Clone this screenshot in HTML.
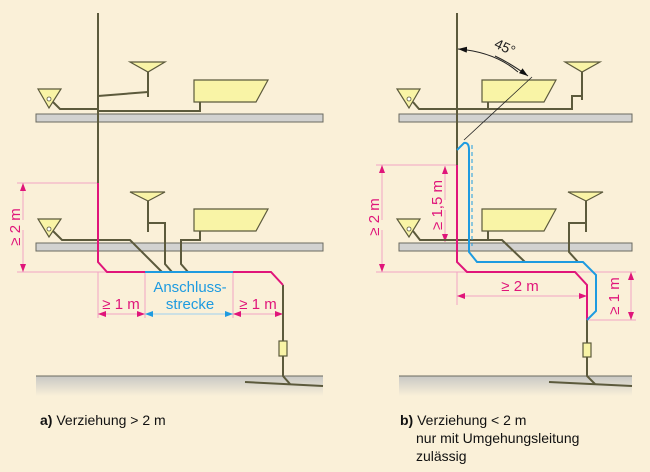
<!DOCTYPE html>
<html><head><meta charset="utf-8"><style>
html,body{margin:0;padding:0;background:#faf0d8;}
svg{display:block;}
text{font-family:"Liberation Sans",sans-serif;}
</style></head><body>
<svg width="650" height="472" viewBox="0 0 650 472" xmlns="http://www.w3.org/2000/svg">
<defs>
<linearGradient id="gr" x1="0" y1="0" x2="0" y2="1"><stop offset="0" stop-color="#c8c8c4"/><stop offset="1" stop-color="#faf0d8"/></linearGradient>
<marker id="am" markerWidth="8" markerHeight="6" refX="8" refY="3" orient="auto" markerUnits="userSpaceOnUse"><path d="M0,0 L8,3 L0,6z" fill="#e0157a"/></marker>
<marker id="ab" markerWidth="8" markerHeight="6" refX="8" refY="3" orient="auto" markerUnits="userSpaceOnUse"><path d="M0,0 L8,3 L0,6z" fill="#1e9be0"/></marker>
<marker id="ak" markerWidth="9" markerHeight="6" refX="9" refY="3" orient="auto" markerUnits="userSpaceOnUse"><path d="M0,0 L9,3 L0,6z" fill="#111"/></marker>
</defs>
<rect width="650" height="472" fill="#faf0d8"/>

<g fill="#d2d2d0" stroke="#6a6a60" stroke-width="1">
<rect x="36" y="114" width="287" height="8"/>
<rect x="36" y="243" width="287" height="8"/>
<rect x="399" y="114" width="233" height="8"/>
<rect x="399" y="243" width="233" height="8"/>
</g>
<rect x="36" y="376" width="287" height="20" fill="url(#gr)"/>
<line x1="36" y1="376" x2="323" y2="376" stroke="#6a6a60"/>
<rect x="399" y="376" width="233" height="20" fill="url(#gr)"/>
<line x1="399" y1="376" x2="632" y2="376" stroke="#6a6a60"/>

<g stroke="#f3a3c4" stroke-width="1" fill="none">
<line x1="17" y1="183" x2="98" y2="183"/>
<line x1="17" y1="272" x2="145" y2="272"/>
<line x1="98" y1="272" x2="98" y2="318"/>
<line x1="145" y1="272" x2="145" y2="318"/>
<line x1="233" y1="272" x2="233" y2="318"/>
<line x1="283" y1="285" x2="283" y2="318"/>
<line x1="376" y1="165" x2="457" y2="165"/>
<line x1="376" y1="272" x2="636" y2="272"/>
<line x1="457" y1="272" x2="457" y2="305"/>
<line x1="587" y1="320" x2="636" y2="320"/>
</g>
<g stroke="#f3a3c4" stroke-width="1">
<line x1="23" y1="220" x2="23" y2="183" marker-end="url(#am)"/>
<line x1="23" y1="230" x2="23" y2="272" marker-end="url(#am)"/>
<line x1="382" y1="220" x2="382" y2="165" marker-end="url(#am)"/>
<line x1="382" y1="230" x2="382" y2="272" marker-end="url(#am)"/>
<line x1="445" y1="200" x2="445" y2="166" marker-end="url(#am)"/>
<line x1="445" y1="210" x2="445" y2="242" marker-end="url(#am)"/>
<line x1="631" y1="296" x2="631" y2="272" marker-end="url(#am)"/>
<line x1="631" y1="296" x2="631" y2="320" marker-end="url(#am)"/>
<line x1="121" y1="314" x2="98" y2="314" marker-end="url(#am)"/>
<line x1="121" y1="314" x2="145" y2="314" marker-end="url(#am)"/>
<line x1="258" y1="314" x2="233" y2="314" marker-end="url(#am)"/>
<line x1="258" y1="314" x2="283" y2="314" marker-end="url(#am)"/>
<line x1="520" y1="296" x2="457" y2="296" marker-end="url(#am)"/>
<line x1="520" y1="296" x2="587" y2="296" marker-end="url(#am)"/>
</g>
<g stroke="#9fd0ef" stroke-width="1">
<line x1="189" y1="314" x2="145" y2="314" marker-end="url(#ab)"/>
<line x1="189" y1="314" x2="233" y2="314" marker-end="url(#ab)"/>
</g>

<path d="M518,72 Q495,52 458,49" fill="none" stroke="#222" stroke-width="1" marker-end="url(#ak)"/>
<path d="M495,56 Q510,63 528,76" fill="none" stroke="#222" stroke-width="1" marker-end="url(#ak)"/>
<text x="494" y="52" font-size="14" fill="#222" transform="rotate(25 505 48)">45°</text>

<g stroke="#5c5a3c" stroke-width="2" fill="none" stroke-linejoin="miter">
<line x1="98" y1="13" x2="98" y2="183"/>
<polyline points="53,102 60,109 98,109"/>
<polyline points="98,111 200,111 200,102"/>
<polyline points="98,96 148,92"/>
<line x1="148" y1="70" x2="148" y2="97"/>
<line x1="148" y1="199" x2="148" y2="232"/>
<polyline points="148,223 165,223 165,264 172,272"/>
<polyline points="53,231 62,240 130,240 162,272"/>
<polyline points="200,231 200,240 181,240 181,264 188,272"/>
<polyline points="283,285 283,376 290,384"/>
<line x1="245" y1="382" x2="323" y2="386"/>
<line x1="457" y1="13" x2="457" y2="165"/>
<polyline points="413,102 419,109 572,109 572,96 582,96 582,100"/>
<line x1="582" y1="70" x2="582" y2="99"/>
<line x1="488" y1="102" x2="488" y2="109"/>
<polyline points="413,231 420,240 502,240 525,262"/>
<polyline points="488,231 488,240"/>
<line x1="586" y1="199" x2="586" y2="232"/>
<polyline points="586,223 569,223 569,252 578,262"/>
<polyline points="587,320 587,376 595,384"/>
<line x1="549" y1="382" x2="632" y2="386"/>
</g>
<g fill="#f9f4a6" stroke="#5c5a3c" stroke-width="1.2">
<polygon points="38,89 61,89 49,108"/>
<polygon points="130,62 165,62 148,72"/>
<polygon points="194,80 268,80 256,102 194,102"/>
<polygon points="38,219 61,219 49,237"/>
<polygon points="130,192 165,192 148,201"/>
<polygon points="194,209 268,209 256,231 194,231"/>
<polygon points="397,89 420,89 409,108"/>
<polygon points="565,62 600,62 582,72"/>
<polygon points="482,80 556,80 544,102 482,102"/>
<polygon points="397,219 420,219 409,237"/>
<polygon points="568,192 603,192 586,201"/>
<polygon points="482,209 556,209 544,231 482,231"/>
<rect x="279" y="341" width="8" height="15"/>
<rect x="583" y="343" width="8" height="14"/>
</g>
<g fill="#fff" stroke="#5c5a3c" stroke-width="0.8">
<circle cx="49" cy="99" r="2"/><circle cx="49" cy="229" r="2"/>
<circle cx="409" cy="99" r="2"/><circle cx="409" cy="229" r="2"/>
</g>
<line x1="464" y1="140" x2="532" y2="77" stroke="#222" stroke-width="0.8"/>

<g fill="none" stroke-width="2">
<polyline points="98,183 98,262 107,272 145,272" stroke="#e0157a"/>
<line x1="145" y1="272" x2="233" y2="272" stroke="#1e9be0"/>
<polyline points="233,272 271,272 283,285" stroke="#e0157a"/>
<polyline points="457,165 457,262 467,272 575,272 587,285 587,320" stroke="#e0157a"/>
<path d="M457,150 L464,143 Q469,142 469,150 L469,252 L477,262 L583,262 L596,275 L596,311 L587,320" stroke="#1e9be0"/>
<line x1="472" y1="145" x2="472" y2="246" stroke="#1e9be0" stroke-width="1" stroke-dasharray="4,3"/>
</g>

<g fill="#e0157a" font-size="15">
<text transform="translate(20,227) rotate(-90)" text-anchor="middle">≥ 2 m</text>
<text transform="translate(379,217) rotate(-90)" text-anchor="middle">≥ 2 m</text>
<text transform="translate(442,205) rotate(-90)" text-anchor="middle">≥ 1,5 m</text>
<text transform="translate(619,296) rotate(-90)" text-anchor="middle">≥ 1 m</text>
<text x="121" y="309" text-anchor="middle">≥ 1 m</text>
<text x="258" y="309" text-anchor="middle">≥ 1 m</text>
<text x="520" y="291" text-anchor="middle">≥ 2 m</text>
</g>
<g fill="#1e9be0" font-size="15" text-anchor="middle">
<text x="190" y="292">Anschluss-</text>
<text x="190" y="309">strecke</text>
</g>
<g fill="#111" font-size="14">
<text x="40" y="425"><tspan font-weight="bold">a)</tspan> Verziehung &gt; 2 m</text>
<text x="400" y="425"><tspan font-weight="bold">b)</tspan> Verziehung &lt; 2 m</text>
<text x="416" y="443">nur mit Umgehungsleitung</text>
<text x="416" y="461">zulässig</text>
</g>
</svg>
</body></html>
